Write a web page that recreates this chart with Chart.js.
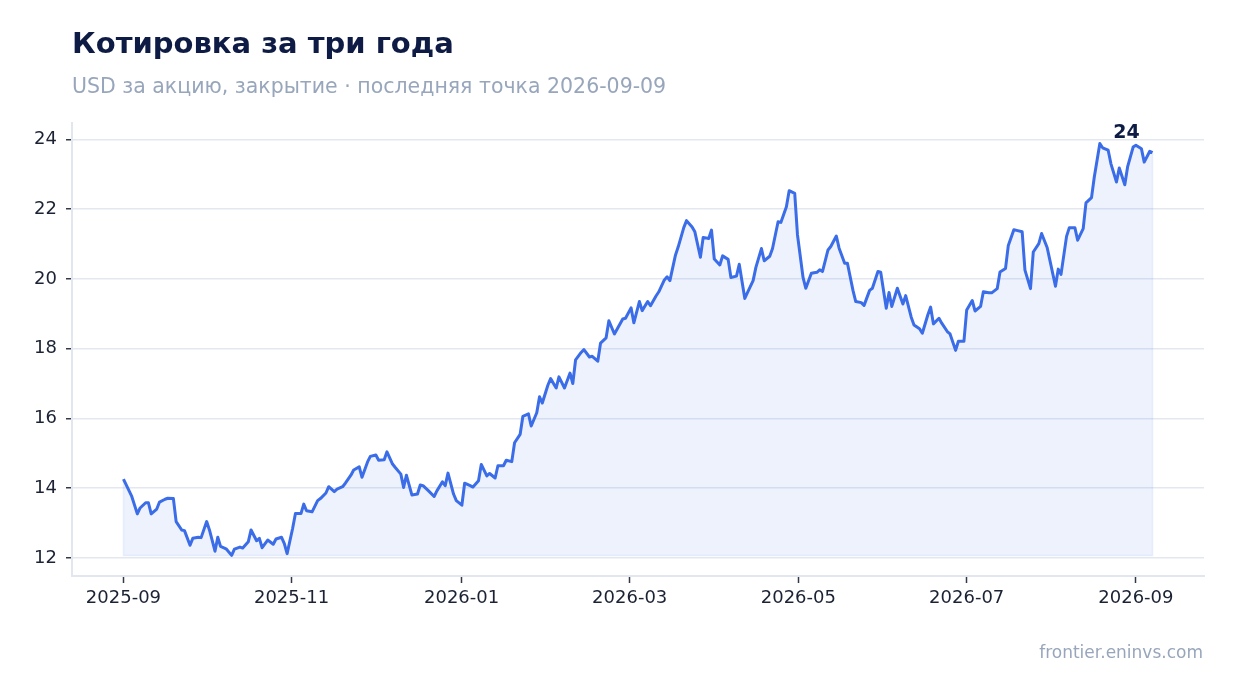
<!DOCTYPE html>
<html>
<head>
<meta charset="utf-8">
<script src="https://cdn.jsdelivr.net/npm/chart.js@4/dist/chart.umd.min.js"></script>
<style>
  html, body { margin: 0; padding: 0; background: #ffffff; }
  body { width: 1234px; height: 693px; position: relative; overflow: hidden; font-family: "DejaVu Sans", sans-serif; }
  #title { position: absolute; left: 72px; top: 29px; font-size: 29px; line-height: 29px; font-weight: bold; color: #0e1b45; white-space: nowrap; }
  #subtitle { position: absolute; left: 72px; top: 76px; font-size: 20.5px; line-height: 20px; color: #98a6bc; white-space: nowrap; }
  #footer { position: absolute; right: 31px; top: 644px; font-size: 17px; line-height: 17px; color: #98a6bc; white-space: nowrap; }
  #wrap { position: absolute; left: 0; top: 0; width: 1234px; height: 693px; }
</style>
</head>
<body>
<div id="wrap"><canvas id="chart" width="1234" height="693"></canvas></div>
<div id="title">Котировка за три года</div>
<div id="subtitle">USD за акцию, закрытие · последняя точка 2026-09-09</div>
<div id="footer">frontier.eninvs.com</div>
<script>
// days since 2025-09-01
const dayOffsets = [
  0, 3, 5, 6, 8, 9, 10, 12, 13, 15, 16, 18, 19, 21, 22, 24, 25, 27, 28, 30,
  31, 33, 34, 35, 37, 39, 40, 42, 43, 45, 46, 48, 49, 50, 52, 54, 55, 57, 58, 59,
  61, 62, 64, 65, 66, 68, 70, 71, 73, 74, 76, 77, 79, 80, 82, 83, 85, 86, 88, 89,
  91, 92, 94, 95, 97, 98, 100, 101, 102, 104, 106, 107, 108, 110, 112, 113, 115, 116, 117, 119,
  120, 122, 123, 125, 126, 128, 129, 131, 132, 134, 135, 137, 138, 140, 141, 143, 144, 146, 147, 149,
  150, 151, 153, 154, 156, 157, 159, 161, 162, 163, 165, 166, 168, 169, 171, 172, 174, 175, 177, 178,
  180, 181, 183, 184, 186, 187, 189, 190, 192, 193, 195, 196, 197, 199, 200, 202, 203, 205, 206, 208,
  209, 211, 212, 213, 215, 216, 218, 219, 221, 222, 224, 225, 227, 228, 230, 231, 233, 234, 236, 237,
  239, 240, 242, 243, 245, 246, 248, 250, 251, 252, 254, 255, 257, 258, 260, 261, 263, 264, 266, 267,
  269, 270, 272, 273, 275, 276, 277, 279, 281, 282, 284, 285, 287, 288, 290, 291, 292, 294, 295, 297,
  298, 300, 301, 303, 304, 306, 307, 309, 310, 312, 313, 315, 316, 318, 319, 321, 322, 324, 325, 327,
  328, 330, 331, 333, 334, 336, 337, 338, 340, 341, 343, 344, 346, 347, 349, 350, 352, 353, 355, 356,
  358, 359, 361, 362, 364, 365, 367, 368, 370, 371,
];

const closes = [
  14.26, 13.76, 13.26, 13.43, 13.58, 13.58, 13.26, 13.40, 13.60, 13.68, 13.71, 13.70, 13.04, 12.80, 12.78, 12.36, 12.56, 12.59, 12.58, 13.04,
  12.80, 12.19, 12.59, 12.33, 12.26, 12.07, 12.25, 12.31, 12.28, 12.46, 12.80, 12.49, 12.56, 12.29, 12.51, 12.39, 12.54, 12.59, 12.41, 12.12,
  12.85, 13.27, 13.27, 13.54, 13.35, 13.32, 13.64, 13.70, 13.86, 14.04, 13.90, 13.97, 14.04, 14.14, 14.37, 14.52, 14.61, 14.31, 14.75, 14.91,
  14.95, 14.80, 14.81, 15.04, 14.69, 14.59, 14.40, 14.02, 14.37, 13.80, 13.83, 14.09, 14.07, 13.92, 13.76, 13.92, 14.18, 14.07, 14.43, 13.83,
  13.64, 13.51, 14.14, 14.07, 14.03, 14.21, 14.68, 14.35, 14.42, 14.29, 14.64, 14.64, 14.80, 14.76, 15.30, 15.54, 16.06, 16.13, 15.78, 16.16,
  16.62, 16.44, 16.95, 17.14, 16.87, 17.19, 16.87, 17.30, 17.00, 17.68, 17.89, 17.97, 17.76, 17.78, 17.64, 18.16, 18.31, 18.80, 18.42, 18.56,
  18.85, 18.87, 19.17, 18.74, 19.35, 19.09, 19.35, 19.23, 19.51, 19.63, 19.97, 20.06, 19.95, 20.68, 20.92, 21.47, 21.67, 21.49, 21.35, 20.62,
  21.19, 21.16, 21.40, 20.57, 20.40, 20.66, 20.56, 20.04, 20.08, 20.42, 19.44, 19.61, 19.95, 20.33, 20.87, 20.52, 20.65, 20.87, 21.64, 21.62,
  22.07, 22.53, 22.45, 21.26, 20.04, 19.73, 20.16, 20.19, 20.26, 20.21, 20.83, 20.93, 21.23, 20.88, 20.45, 20.45, 19.67, 19.35, 19.32, 19.24,
  19.67, 19.73, 20.21, 20.19, 19.16, 19.61, 19.21, 19.73, 19.28, 19.52, 18.90, 18.68, 18.57, 18.44, 18.97, 19.19, 18.71, 18.87, 18.73, 18.49,
  18.42, 17.95, 18.21, 18.21, 19.11, 19.38, 19.08, 19.21, 19.63, 19.60, 19.60, 19.72, 20.20, 20.30, 20.96, 21.41, 21.39, 21.35, 20.25, 19.72,
  20.77, 21.01, 21.30, 20.90, 20.53, 19.79, 20.28, 20.13, 21.22, 21.47, 21.47, 21.11, 21.44, 22.18, 22.33, 22.92, 23.88, 23.76, 23.69, 23.30,
  22.78, 23.18, 22.70, 23.21, 23.78, 23.83, 23.73, 23.35, 23.66, 23.62,
];

// tick positions as they sit on the reference axis (same day units as above)
const tickDays = [0, 60.6, 121.9, 182.5, 243.3, 304, 365];
const tickLabels = ["2025-09", "2025-11", "2026-01", "2026-03", "2026-05", "2026-07", "2026-09"];
const yTicks = [12, 14, 16, 18, 20, 22, 24];

const lineColor = "#3b6de8";
const minClose = Math.min(...closes);
const maxClose = Math.max(...closes);
const lastDay = dayOffsets[dayOffsets.length - 1];
const xPad = (lastDay - dayOffsets[0]) * 0.05;
const yPad = (maxClose - minClose) * 0.05;

const points = dayOffsets.map((d, i) => ({x: d, y: closes[i]}));

// thin outline of the shaded area + label over the last value
const extras = {
  id: "extras",
  beforeDatasetsDraw(chart) {
    const {ctx, scales: {x, y}} = chart;
    const x0 = x.getPixelForValue(dayOffsets[0]);
    const x1 = x.getPixelForValue(lastDay);
    const yb = y.getPixelForValue(minClose);
    ctx.save();
    ctx.strokeStyle = "rgba(59,109,232,0.10)";
    ctx.lineWidth = 1.5;
    ctx.beginPath();
    ctx.moveTo(x0, y.getPixelForValue(closes[0]));
    ctx.lineTo(x0, yb);
    ctx.lineTo(x1, yb);
    ctx.lineTo(x1, y.getPixelForValue(closes[closes.length - 1]));
    ctx.stroke();
    ctx.restore();
  },
  afterDatasetsDraw(chart) {
    const {ctx, scales: {x, y}} = chart;
    ctx.save();
    ctx.font = "bold 19px 'DejaVu Sans'";
    ctx.fillStyle = "#0e1b45";
    ctx.textAlign = "center";
    ctx.textBaseline = "alphabetic";
    ctx.fillText(String(Math.round(closes[closes.length - 1])),
      x.getPixelForValue(lastDay) - 26, y.getPixelForValue(maxClose) - 6);
    ctx.restore();
  },
};

new Chart(document.getElementById("chart"), {
  type: "line",
  data: {
    datasets: [{
      data: points,
      borderColor: lineColor,
      borderWidth: 3,
      backgroundColor: "rgba(59,109,232,0.09)",
      fill: {value: minClose},
      pointRadius: 0,
      tension: 0,
      borderJoinStyle: "round",
    }],
  },
  options: {
    responsive: false,
    animation: false,
    layout: {padding: {left: 0, right: 30, top: 123, bottom: 67}},
    plugins: {legend: {display: false}, tooltip: {enabled: false}},
    scales: {
      x: {
        type: "linear",
        min: dayOffsets[0] - xPad,
        max: lastDay + xPad,
        afterBuildTicks: axis => { axis.ticks = tickDays.map(v => ({value: v})); },
        afterFit: axis => { axis.height = 50; },
        ticks: {
          callback: v => tickLabels[tickDays.indexOf(v)],
          color: "#1b2233",
          font: {family: "DejaVu Sans", size: 18},
          padding: 5,
          maxRotation: 0,
          autoSkip: false,
        },
        grid: {drawOnChartArea: false, drawTicks: true, tickLength: 7, tickColor: "#333844", tickWidth: 1.5},
        border: {color: "#e2e7ef", width: 2},
      },
      y: {
        min: minClose - yPad,
        max: maxClose + yPad,
        afterBuildTicks: axis => { axis.ticks = yTicks.map(v => ({value: v})); },
        afterFit: axis => { axis.width = 72; },
        ticks: {
          color: "#1b2233",
          font: {family: "DejaVu Sans", size: 18},
          padding: 9,
        },
        grid: {color: "#e3e8f0", lineWidth: 1.5, tickLength: 6, tickColor: "#333844", tickWidth: 1.5},
        border: {color: "#e2e7ef", width: 2},
      },
    },
  },
  plugins: [extras],
});
</script>
</body>
</html>
